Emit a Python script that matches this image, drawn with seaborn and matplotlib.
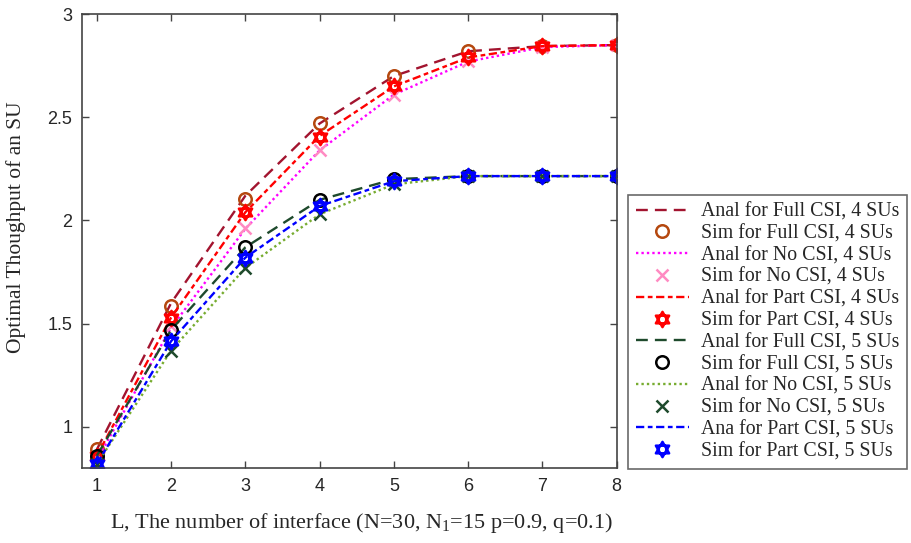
import seaborn as sns
import matplotlib.pyplot as plt
import numpy as np
from matplotlib.path import Path

# Data

L = [1, 2, 3, 4, 5, 6, 7, 8]

anal_full_4 = [0.89, 1.60, 2.12, 2.47, 2.70, 2.82, 2.845, 2.85]
sim_full_4 = [0.89, 1.585, 2.105, 2.47, 2.70, 2.82, 2.845, 2.85]
anal_no_4 = [0.84, 1.48, 1.96, 2.34, 2.61, 2.77, 2.84, 2.85]
sim_no_4 = [0.84, 1.49, 1.965, 2.34, 2.61, 2.775, 2.84, 2.85]
anal_part_4 = [0.86, 1.53, 2.04, 2.41, 2.65, 2.79, 2.845, 2.85]
sim_part_4 = [0.86, 1.525, 2.04, 2.405, 2.65, 2.79, 2.845, 2.85]

anal_full_5 = [0.86, 1.47, 1.87, 2.10, 2.20, 2.215, 2.215, 2.215]
sim_full_5 = [0.86, 1.47, 1.87, 2.10, 2.20, 2.215, 2.215, 2.215]
anal_no_5 = [0.82, 1.37, 1.77, 2.03, 2.175, 2.215, 2.215, 2.215]
sim_no_5 = [0.82, 1.367, 1.77, 2.03, 2.175, 2.215, 2.215, 2.215]
anal_part_5 = [0.82, 1.415, 1.82, 2.07, 2.19, 2.215, 2.215, 2.215]
sim_part_5 = [0.82, 1.415, 1.82, 2.07, 2.19, 2.215, 2.215, 2.215]

#Hexagram marker (two overlapping triangles)

def hexagram():
    verts = []
    codes = []
    for start in [90, 270]:
        ang = np.deg2rad([start, start + 120, start + 240, start])
        verts += list(zip(np.cos(ang), np.sin(ang)))
        codes += [Path.MOVETO, Path.LINETO, Path.LINETO, Path.CLOSEPOLY]
    return Path(verts, codes)

star = hexagram()

sns.set_style("ticks")
plt.rcParams['font.family'] = ['Liberation Serif', 'DejaVu Serif']
plt.rcParams['mathtext.fontset'] = 'custom'
plt.rcParams['mathtext.rm'] = 'Liberation Serif'

fig = plt.figure(figsize=(9.11, 5.43), dpi=100)
ax = fig.add_axes([0.090, 0.138, 0.587, 0.836])

lines = [
    ("Anal for Full CSI, 4 SUs", anal_full_4, "#a2142f", (5, 3)),
    ("Anal for No CSI, 4 SUs", anal_no_4, "#ff00ff", (1, 1.3)),
    ("Anal for Part CSI, 4 SUs", anal_part_4, "#ff0000", (3.5, 1.5, 2, 1.5)),
    ("Anal for Full CSI, 5 SUs", anal_full_5, "#1e4a2c", (5, 3)),
    ("Anal for No CSI, 5 SUs", anal_no_5, "#77ac30", (1, 1.3)),
    ("Ana for Part CSI, 5 SUs", anal_part_5, "#0000ff", (3.5, 1.5, 2, 1.5)),
]
marks = [
    ("Sim for Full CSI, 4 SUs", sim_full_4, "#b5480f", "o", 9),
    ("Sim for No CSI, 4 SUs", sim_no_4, "#ff8ac2", "x", 9),
    ("Sim for Part CSI, 4 SUs", sim_part_4, "#ff0000", star, 11),
    ("Sim for Full CSI, 5 SUs", sim_full_5, "#000000", "o", 9),
    ("Sim for No CSI, 5 SUs", sim_no_5, "#1e4a2c", "x", 9),
    ("Sim for Part CSI, 5 SUs", sim_part_5, "#0000ff", star, 11),
]

handles = []
for (ln, lv, lc, ld), (mn, mv, mc, mk, ms) in zip(lines, marks):
    sns.lineplot(x=L, y=lv, ax=ax, color=lc, linewidth=1.7, label=ln)
    h1 = ax.lines[-1]
    h1.set_dashes(ld)
    sns.lineplot(x=L, y=mv, ax=ax, linestyle='none', marker=mk, markersize=ms,
                 markerfacecolor='none', markeredgecolor=mc,
                 markeredgewidth=1.8, label=mn)
    h2 = ax.lines[-1]
    handles += [h1, h2]

ax.get_legend().remove()

ax.set_xlim(0.8, 8)
ax.set_ylim(0.8, 3)
ax.set_xticks(L)
ax.set_yticks([1, 1.5, 2, 2.5, 3])
ax.set_yticklabels(["1", "1.5", "2", "2.5", "3"])
ax.tick_params(direction='in', top=True, right=True, length=5, width=1,
               color='#444444', labelsize=13, pad=7)
for lab in ax.get_xticklabels() + ax.get_yticklabels():
    lab.set_family(['Liberation Sans Narrow', 'Liberation Sans'])
for s in ax.spines.values():
    s.set_visible(True)
    s.set_color('#444444')
    s.set_linewidth(1.2)

ax.set_xlabel(r"L, The number of interface (N=30, N$_1$=15 p=0.9, q=0.1)", fontsize=16)
ax.set_ylabel("Optimal Thoughput of an SU", fontsize=15.5)
ax.xaxis.set_label_coords(0.523, -0.095)
ax.yaxis.set_label_coords(-0.105, 0.53)

leg = fig.legend(handles=handles, labels=[h.get_label() for h in handles],
                 loc='lower left', bbox_to_anchor=(0.689, 0.136),
                 fontsize=14.3, frameon=True, fancybox=False, edgecolor='#444444',
                 handlelength=2.7, handletextpad=0.6, labelspacing=0.14,
                 borderaxespad=0, borderpad=0.4)
leg.get_frame().set_linewidth(1.2)

fig.savefig("out.png", dpi=100)
